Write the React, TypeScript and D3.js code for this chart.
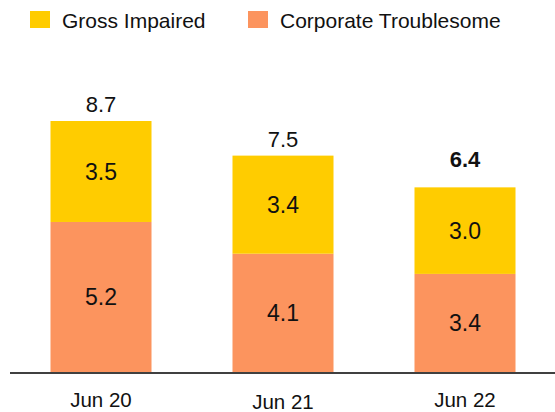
import React, { useEffect, useRef } from "react";
import * as d3 from "d3";

const categories = ["Jun 20", "Jun 21", "Jun 22"];
const corporateTroublesome = [5.2, 4.1, 3.4];
const grossImpaired = [3.5, 3.4, 3.0];
const totals = [8.7, 7.5, 6.4];
const seriesNames = ["Gross Impaired", "Corporate Troublesome"];

const W = 555;
const H = 412;

export default function App() {
  const ref = useRef<SVGSVGElement>(null);

  useEffect(() => {
    const svg = d3.select(ref.current);
    svg.selectAll("*").remove();
    const font = "'Liberation Sans', Arial, sans-serif";
    const yellow = "#FFCC00";
    const orange = "#FC945E";

    const x = d3.scaleBand().domain(categories).range([10, 556]).paddingInner(0.445).paddingOuter(0.2225);
    const y = d3.scaleLinear().domain([0, 8.7]).range([372, 121]);

    const rows = categories.map((c, i) => ({
      c,
      low: corporateTroublesome[i],
      high: grossImpaired[i],
      total: totals[i],
    }));

    const g = svg.append("g");

    g.selectAll(".low")
      .data(rows)
      .join("rect")
      .attr("x", (d) => x(d.c)!)
      .attr("width", x.bandwidth())
      .attr("y", (d) => y(d.low))
      .attr("height", (d) => y(0) - y(d.low))
      .attr("fill", orange);

    g.selectAll(".high")
      .data(rows)
      .join("rect")
      .attr("x", (d) => x(d.c)!)
      .attr("width", x.bandwidth())
      .attr("y", (d) => y(d.low + d.high))
      .attr("height", (d) => y(d.low) - y(d.low + d.high))
      .attr("fill", yellow);

    const cx = (d: any) => x(d.c)! + x.bandwidth() / 2;

    g.selectAll(".lowLabel")
      .data(rows)
      .join("text")
      .attr("x", cx)
      .attr("y", (d) => (y(0) + y(d.low)) / 2)
      .attr("dy", "0.36em")
      .attr("text-anchor", "middle")
      .style("font-family", font)
      .style("font-size", "23px")
      .attr("fill", "#111")
      .text((d) => d.low.toFixed(1));

    g.selectAll(".highLabel")
      .data(rows)
      .join("text")
      .attr("x", cx)
      .attr("y", (d) => (y(d.low) + y(d.low + d.high)) / 2)
      .attr("dy", "0.36em")
      .attr("text-anchor", "middle")
      .style("font-family", font)
      .style("font-size", "23px")
      .attr("fill", "#111")
      .text((d) => d.high.toFixed(1));

    g.selectAll(".totalLabel")
      .data(rows)
      .join("text")
      .attr("x", cx)
      .attr("y", (d, i) => y(d.total) - (i === rows.length - 1 ? 20 : 9))
      .attr("text-anchor", "middle")
      .style("font-family", font)
      .style("font-size", "22px")
      .style("font-weight", (d, i) => (i === rows.length - 1 ? "bold" : "normal"))
      .attr("fill", "#111")
      .text((d) => d.total.toFixed(1));

    // baseline
    g.append("line")
      .attr("x1", 10)
      .attr("x2", W)
      .attr("y1", y(0) + 1)
      .attr("y2", y(0) + 1)
      .attr("stroke", "#404040")
      .attr("stroke-width", 2);

    g.selectAll(".xLabel")
      .data(rows)
      .join("text")
      .attr("x", cx)
      .attr("y", (d, i) => (i === 1 ? 409 : 407))
      .attr("text-anchor", "middle")
      .style("font-family", font)
      .style("font-size", "20.5px")
      .attr("fill", "#111")
      .text((d) => d.c);

    // legend
    const legendX = [30, 248];
    const legendColors = [yellow, orange];
    const lg = svg
      .selectAll(".legend")
      .data(seriesNames)
      .join("g")
      .attr("transform", (d, i) => `translate(${legendX[i]}, 11)`);
    lg.append("rect")
      .attr("width", 20)
      .attr("height", 17)
      .attr("fill", (d, i) => legendColors[i]);
    lg.append("text")
      .attr("x", 32)
      .attr("y", 17)
      .style("font-family", font)
      .style("font-size", "21px")
      .attr("fill", "#111")
      .text((d) => d);
  }, []);

  return (
    <svg ref={ref} width={W} height={H} style={{ position: "absolute", left: 0, top: 0 }} />
  );
}
